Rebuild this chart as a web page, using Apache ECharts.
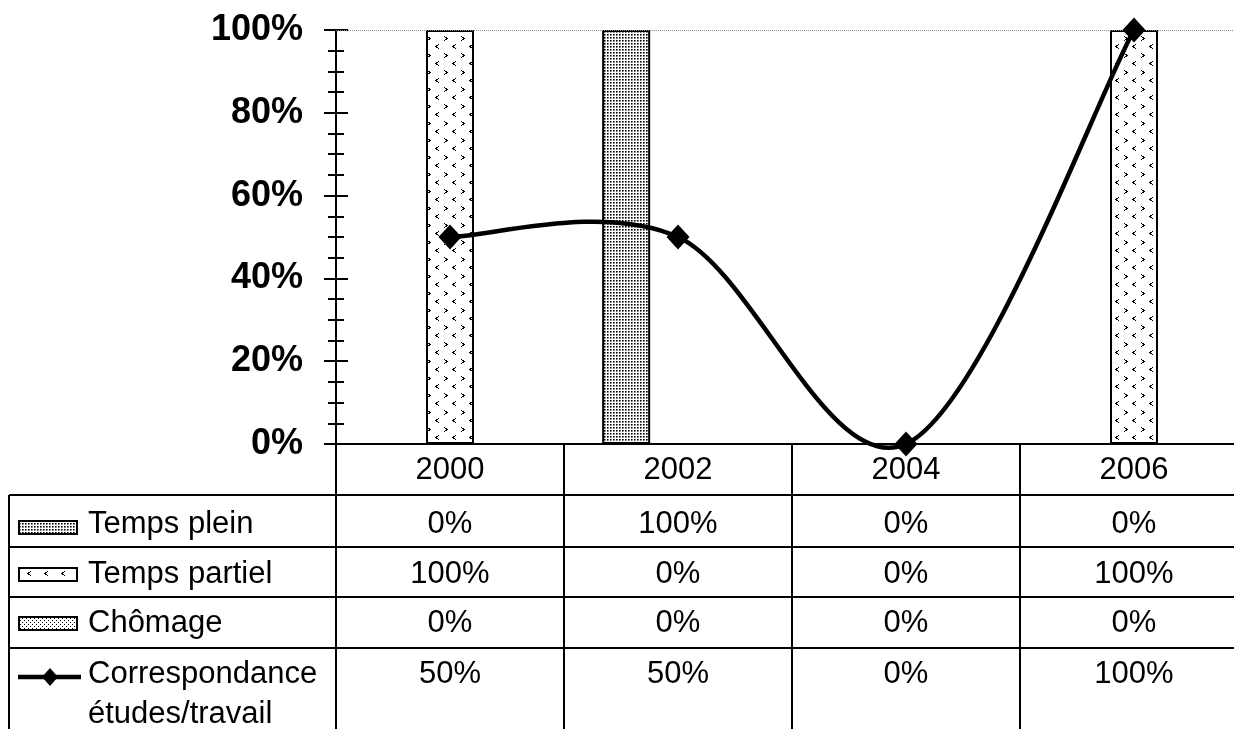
<!DOCTYPE html>
<html><head><meta charset="utf-8">
<script src="https://cdn.jsdelivr.net/npm/echarts@6/dist/echarts.min.js"></script>
<style>html,body{margin:0;padding:0;background:#fff}#c{width:1234px;height:729px}</style>
</head><body><div id="c"></div>
<script>
const years = ['2000', '2002', '2004', '2006'];
const tempsPlein = [0, 1, 0, 0];
const tempsPartiel = [1, 0, 0, 1];
const chomage = [0, 0, 0, 0];
const correspondance = [0.5, 0.5, 0, 1];
const seriesNames = ['Temps plein', 'Temps partiel', 'Chômage', 'Correspondance études/travail'];
const yMin = 0, yMax = 1, yStep = 0.2;

const pct = v => Math.round(v * 100) + '%';

function makePattern(kind) {
  const c = document.createElement('canvas');
  let ctx;
  if (kind === 'plein') {
    c.width = 3; c.height = 3; ctx = c.getContext('2d');
    ctx.fillStyle = '#fff'; ctx.fillRect(0, 0, 3, 3);
    ctx.fillStyle = '#000'; ctx.fillRect(1, 1, 1, 1);
    ctx.fillStyle = '#666'; ctx.fillRect(2, 1, 1, 1); ctx.fillRect(1, 2, 1, 1);
    ctx.fillStyle = '#aaa'; ctx.fillRect(2, 2, 1, 1);
  } else if (kind === 'partiel') {
    c.width = 17; c.height = 17; ctx = c.getContext('2d');
    ctx.fillStyle = '#fff'; ctx.fillRect(0, 0, 17, 17);
    ctx.fillStyle = '#000';
    const gt = [[0,0],[1,1],[2,1],[2,2],[3,2],[1,3],[2,3],[0,4]];
    gt.forEach(p => ctx.fillRect(2 + p[0], 2 + p[1], 1, 1));
    gt.forEach(p => ctx.fillRect(10 + (3 - p[0]), 10 + p[1], 1, 1));
  } else {
    c.width = 4; c.height = 4; ctx = c.getContext('2d');
    ctx.fillStyle = '#fff'; ctx.fillRect(0, 0, 4, 4);
    ctx.fillStyle = '#000'; ctx.fillRect(0, 0, 1, 1); ctx.fillRect(2, 2, 1, 1);
  }
  return { image: c, repeat: 'repeat' };
}
const patterns = [makePattern('plein'), makePattern('partiel'), makePattern('chomage')];

const FONT = 'Liberation Sans, Arial, sans-serif';
const chart = echarts.init(document.getElementById('c'), null, { renderer: 'canvas' });

const barData = [tempsPlein, tempsPartiel, chomage];
const series = barData.map((d, i) => ({
  name: seriesNames[i], type: 'bar', data: d, barWidth: 48, barGap: '8%',
  itemStyle: { color: patterns[i], borderColor: '#000', borderWidth: 2 },
  emphasis: { disabled: true }
}));

// smoothed curve (Catmull-Rom style bezier, like the spreadsheet's smoothing) through the library's coordinates
series.push({
  name: seriesNames[3], type: 'custom', data: correspondance.map((v, i) => [i, v]),
  z: 4, silent: true,
  renderItem: function (params, api) {
    if (params.dataIndex !== 0) return null;
    const pts = correspondance.map((v, i) => api.coord([i, v]));
    const n = pts.length;
    let d = 'M' + pts[0][0] + ' ' + pts[0][1];
    for (let i = 0; i < n - 1; i++) {
      const p0 = pts[Math.max(i - 1, 0)], p1 = pts[i], p2 = pts[i + 1], p3 = pts[Math.min(i + 2, n - 1)];
      const c1 = [p1[0] + (p2[0] - p0[0]) / 6, p1[1] + (p2[1] - p0[1]) / 6];
      const c2 = [p2[0] - (p3[0] - p1[0]) / 6, p2[1] - (p3[1] - p1[1]) / 6];
      d += ' C' + c1.join(' ') + ' ' + c2.join(' ') + ' ' + p2.join(' ');
    }
    return { type: 'path', shape: { pathData: d }, style: { fill: 'none', stroke: '#000', lineWidth: 4.5 } };
  },
  markLine: {
    silent: true, symbol: 'none', label: { show: false },
    lineStyle: { color: '#8a8a8a', type: 'dotted', width: 1 },
    data: [{ yAxis: yMax }]
  }
});
series.push({
  name: seriesNames[3] + ' ', type: 'scatter', data: correspondance,
  symbol: 'diamond', symbolSize: [23, 25], itemStyle: { color: '#000', opacity: 1 }, z: 5,
  emphasis: { disabled: true }, silent: true
});

const tickStyle = { color: '#000', width: 2 };
chart.setOption({
  animation: false,
  grid: { left: 336, top: 30, width: 912, height: 414, outerBoundsMode: 'none' },
  xAxis: {
    type: 'category', data: years, boundaryGap: true,
    axisLine: { lineStyle: { color: '#000', width: 2 } },
    axisTick: { show: false }, axisLabel: { show: false }, splitLine: { show: false }
  },
  yAxis: [{
    type: 'value', min: yMin, max: yMax, interval: yStep,
    axisLine: { show: true, lineStyle: { color: '#000', width: 2 } },
    axisTick: { show: true, length: 12, lineStyle: tickStyle },
    minorTick: { show: true, splitNumber: 4, length: 8, lineStyle: tickStyle },
    splitLine: { show: false },
    axisLabel: { formatter: pct, color: '#000', fontSize: 36, fontWeight: 'bold', fontFamily: FONT, margin: 33 }
  }, {
    type: 'value', min: yMin, max: yMax, interval: yStep, position: 'left',
    axisLine: { show: false },
    axisTick: { show: true, inside: true, length: 12, lineStyle: tickStyle },
    minorTick: { show: true, splitNumber: 4, length: 8, lineStyle: tickStyle },
    splitLine: { show: false }, axisLabel: { show: false }
  }],
  series: series
});

// data table below the chart
const xs = years.map(y => chart.convertToPixel({ xAxisIndex: 0 }, y));
const step = xs[1] - xs[0];
const tableLeft = xs[0] - step / 2;
const axisY = chart.convertToPixel({ yAxisIndex: 0 }, yMin);
const W = 1234, H = 729;
const rowLines = [495, 547, 597, 648];
const rowTextY = [524, 574, 623, 674];
const keyTop = [521, 568, 617];
const lineStyle = { stroke: '#000', lineWidth: 2 };
const g = [];
for (let i = 0; i <= years.length; i++) {
  const x = Math.round(tableLeft + i * step);
  g.push({ type: 'line', shape: { x1: x, y1: axisY, x2: x, y2: H + 5 }, style: lineStyle, silent: true });
}
rowLines.forEach(y => g.push({ type: 'line', shape: { x1: 9, y1: y, x2: W + 20, y2: y }, style: lineStyle, silent: true }));
g.push({ type: 'line', shape: { x1: 9, y1: rowLines[0], x2: 9, y2: H + 5 }, style: lineStyle, silent: true });

const txt = (x, y, s, align) => ({
  type: 'text', x: x, y: y, silent: true,
  style: { text: s, fill: '#000', font: '31px ' + FONT, align: align || 'center', verticalAlign: 'middle' }
});
years.forEach((yr, i) => g.push(txt(xs[i], 470, yr)));
const rows = [tempsPlein, tempsPartiel, chomage, correspondance];
rows.forEach((r, ri) => r.forEach((v, i) => g.push(txt(xs[i], rowTextY[ri], pct(v)))));
const labelLines = [[seriesNames[0]], [seriesNames[1]], [seriesNames[2]], seriesNames[3].split(' ')];
labelLines.forEach((ls, ri) => ls.forEach((s, li) => g.push(txt(88, rowTextY[ri] + li * 40, s, 'left'))));
for (let k = 0; k < 3; k++) {
  g.push({ type: 'rect', shape: { x: 19, y: keyTop[k], width: 58, height: 13 }, silent: true,
    style: { fill: patterns[k], stroke: '#000', lineWidth: 2 } });
}
g.push({ type: 'line', shape: { x1: 18, y1: 677, x2: 81, y2: 677 }, style: { stroke: '#000', lineWidth: 4.5 }, silent: true });
g.push({ type: 'polygon', shape: { points: [[50, 668], [58, 677], [50, 686], [42, 677]] }, style: { fill: '#000' }, silent: true });

chart.setOption({ graphic: g });
</script>
</body></html>
